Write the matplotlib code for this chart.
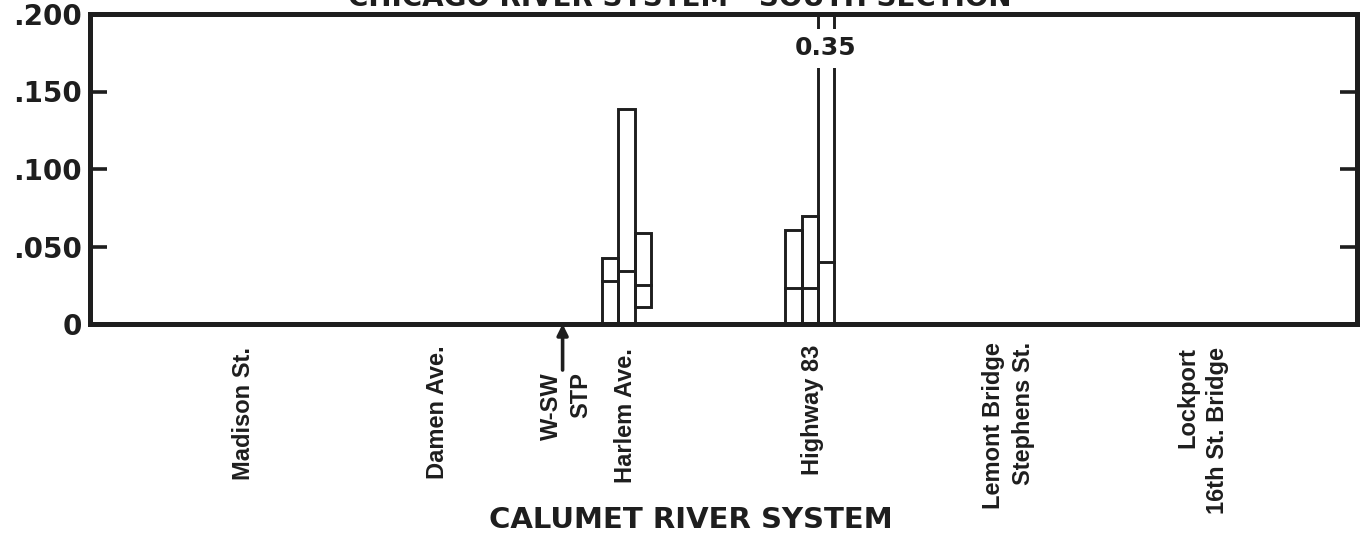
import matplotlib
matplotlib.use("Agg")
import matplotlib.pyplot as plt

# ---------------- data ----------------
stations = ["Madison St.", "Damen Ave.", "W-SW\nSTP", "Harlem Ave.",
            "Highway 83", "Lemont Bridge\nStephens St.", "Lockport\n16th St. Bridge"]
station_x = [12.1, 27.4, 37.3, 42.3, 57.0, 72.5, 87.8]

harlem_x = 42.35
harlem_hi = [0.0426, 0.1387, 0.0587]
harlem_lo = [0.0, 0.0, 0.011]
harlem_mid = [0.0277, 0.0342, 0.0252]

hwy_x = 56.8
hwy_hi = [0.0606, 0.0697, 0.35]
hwy_lo = [0.0, 0.0, 0.0]
hwy_mid = [0.0232, 0.0232, 0.040]

yticks = [0, 0.05, 0.10, 0.15, 0.20]
yticklabels = ["0", ".050", ".100", ".150", ".200"]

top_title = "CHICAGO RIVER SYSTEM - SOUTH SECTION"
bottom_title = "CALUMET RIVER SYSTEM"

# ---------------- figure ----------------
INK = "#1e1e1e"
fig = plt.figure(figsize=(13.65, 5.33), dpi=100)
ax = fig.add_axes([90 / 1365, 1 - 324 / 533, 1267 / 1365, 310 / 533])
ax.set_xlim(0, 100)
ax.set_ylim(0, 0.2)

for s in ax.spines.values():
    s.set_linewidth(3.6)
    s.set_color(INK)

ax.set_xticks([])
ax.set_yticks(yticks)
ax.set_yticklabels(yticklabels, fontsize=20, family="DejaVu Sans",
                   fontweight="bold", color=INK)
ax.tick_params(axis="y", direction="in", length=12, width=2.6, color=INK,
               right=True, labelright=False, pad=6)

w = 1.28
offs = [-w, 0.0, w]


def draw_group(cx, hi, lo, mid):
    xs = [cx + o for o in offs]
    heights = [h - l for h, l in zip(hi, lo)]
    ax.bar(xs, heights, bottom=lo, width=w, fill=False, edgecolor=INK,
           linewidth=2.1, zorder=3)
    for x, m in zip(xs, mid):
        ax.plot([x - w / 2, x + w / 2], [m, m], color=INK, lw=2.1, zorder=3)
    return xs


draw_group(harlem_x, harlem_hi, harlem_lo, harlem_mid)
hx = draw_group(hwy_x, hwy_hi, hwy_lo, hwy_mid)

# broken-bar value label
ax.text(hx[2], 0.178, f"{hwy_hi[2]:.2f}", ha="center", va="center",
        fontsize=18, family="DejaVu Sans", fontweight="bold", color=INK, zorder=5,
        bbox=dict(boxstyle="square,pad=0.3", fc="white", ec="none"))

# station labels
label_y = {0: -0.0148, 1: -0.0135, 2: -0.031, 3: -0.0155,
           4: -0.0135, 5: -0.0115, 6: -0.0148}
label_dx = {0: 0.0, 1: 0.0, 2: 0.3, 3: 0.0, 4: 0.0, 5: 0.0, 6: 0.0}
for i, (name, x) in enumerate(zip(stations, station_x)):
    ax.text(x + label_dx[i], label_y[i], name, rotation=90, ha="center", va="top",
            multialignment="right", linespacing=1.35,
            fontsize=17, family="Liberation Sans", fontweight="bold",
            color=INK, clip_on=False)

# W-SW STP arrow
ax.annotate("", xy=(station_x[2], 0.0), xytext=(station_x[2], -0.0297),
            arrowprops=dict(arrowstyle="-|>", lw=2.6, color=INK,
                            mutation_scale=16, shrinkA=0, shrinkB=0),
            annotation_clip=False)

# section titles (top one cut off by the page edge, as in the scan)
fig.text(680 / 1365, 1 - 6 / 533, top_title, ha="center", va="baseline",
         fontsize=20, fontweight="bold", family="DejaVu Sans", color=INK)
fig.text(691 / 1365, 1 - 528 / 533, bottom_title, ha="center", va="baseline",
         fontsize=21, fontweight="bold", family="DejaVu Sans", color=INK)

fig.savefig("out.png", dpi=100, facecolor="white")
